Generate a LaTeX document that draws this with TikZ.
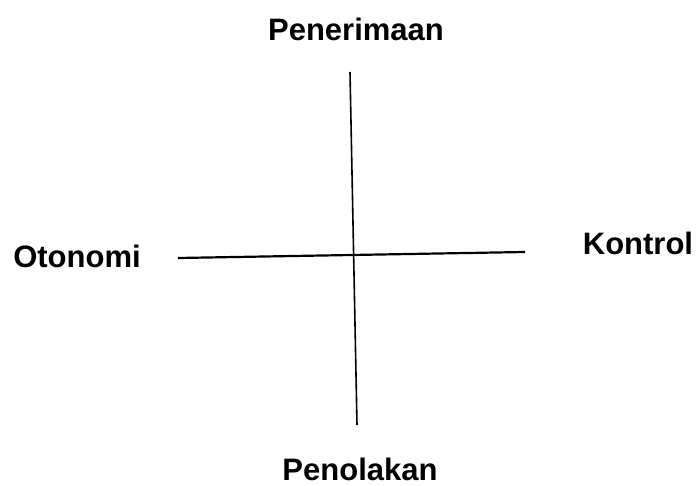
\documentclass[tikz,border=0pt]{standalone}
\usepackage{fontspec}
\setmainfont{Liberation Sans}
\usepackage{tikz}
\usetikzlibrary{positioning}

\tikzset{
  axislabel/.style={font=\fontsize{31}{37}\selectfont\bfseries, inner sep=0pt, anchor=base},
  axisline/.style={line width=1.6pt, black}
}

\begin{document}
\begin{tikzpicture}[x=1pt, y=-1pt]

  \useasboundingbox (0,0) rectangle (699,486);

  % Labels
  \node[axislabel] (terima) at (356,41) {Penerimaan};
  \node[axislabel] (tolak) at (360,480) {Penolakan};
  \node[axislabel] (otonomi) at (77,268) {Otonomi};
  \node[axislabel] (kontrol) at (638,255) {Kontrol};

  % Axis ends
  \coordinate (atas) at (350,72);
  \coordinate (bawah) at (357,425);
  \coordinate (kiri) at (178,258);
  \coordinate (kanan) at (525,252);

  % Axes
  \draw[axisline] (atas) -- (bawah);
  \draw[axisline, line width=2.2pt] (kiri) -- (kanan);

\end{tikzpicture}
\end{document}
